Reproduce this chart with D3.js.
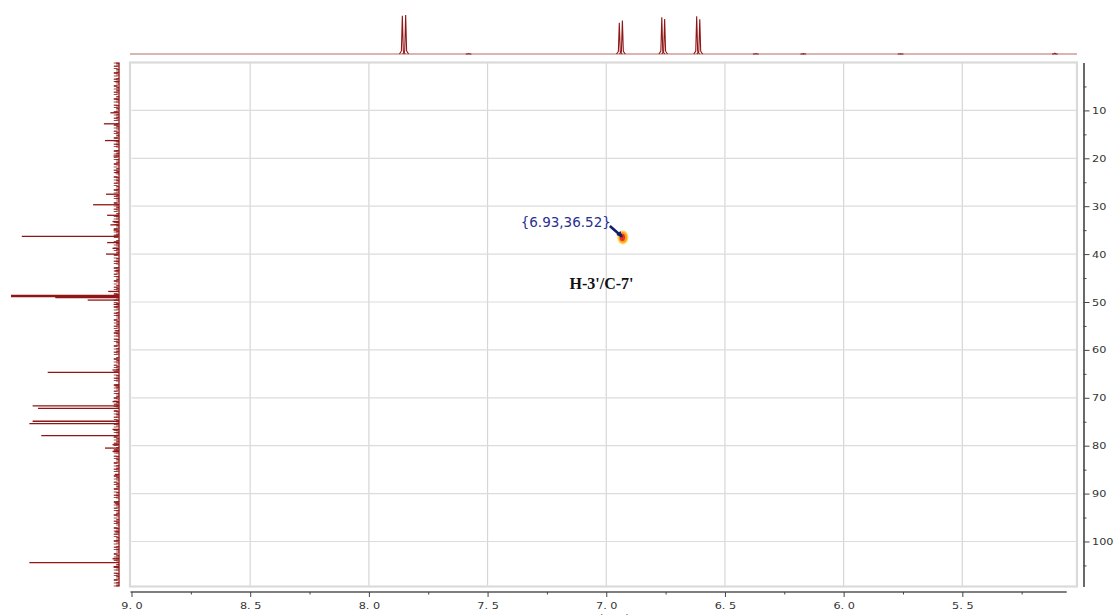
<!DOCTYPE html>
<html>
<head>
<meta charset="utf-8">
<script src="https://cdn.jsdelivr.net/npm/d3@7"></script>
<style>
  body { margin: 0; background: #fff; }
  svg { display: block; }
</style>
</head>
<body>
<div id="chart"></div>
<script>
// 1H projection (top): [ppm, relative height]
var protonPeaks = [
  [7.859, 0.98], [7.845, 1.0],
  [6.945, 0.80], [6.932, 0.86],
  [6.766, 0.94], [6.754, 0.90],
  [6.619, 0.97], [6.606, 0.89],
  [7.58, 0.01], [6.37, 0.01], [6.17, 0.008], [5.76, 0.006], [5.11, 0.02]
];

// 13C projection (left): [ppm, relative intensity]
var carbonPeaks = [
  [10.5, 8], [12.8, 14], [16.3, 13], [27.5, 12], [29.7, 24], [31.9, 11],
  [33.9, 8], [36.3, 90], [37.6, 11], [40.0, 12], [47.8, 10],
  [48.6, 100], [48.9, 100], [49.1, 59], [49.6, 29],
  [64.7, 66], [71.7, 80], [72.2, 75], [74.9, 80], [75.4, 83], [77.9, 72],
  [80.5, 13], [81.2, 6], [104.4, 83],
  // small ones along the baseline
  [4.0, 4], [19.5, 5], [23.0, 4], [33.2, 6], [35.0, 5], [38.8, 6], [43.5, 4],
  [50.5, 5], [56.0, 4], [64.2, 6], [67.5, 4], [70.8, 6], [76.6, 6], [79.8, 6],
  [86.0, 4], [92.0, 4], [98.0, 4], [103.6, 6], [105.3, 5]
];

// cross peak and labels
var crossPeak = { h: 6.93, c: 36.52, label: "{6.93,36.52}" };
var assignment = { h: 7.02, c: 47.2, text: "H-3'/C-7'" };

var xTicks = [9.0, 8.5, 8.0, 7.5, 7.0, 6.5, 6.0, 5.5];
var xMinorTicks = [8.75, 8.25, 7.75, 7.25, 6.75, 6.25, 5.75, 5.25];
var yTicks = [10, 20, 30, 40, 50, 60, 70, 80, 90, 100];
var yMinorTicks = [5, 15, 25, 35, 45, 55, 65, 75, 85, 95, 105];

var width = 1118, height = 615;
var red = "#8e1616";

var svg = d3.select("#chart").append("svg")
  .attr("width", width)
  .attr("height", height);

// scales
var x = d3.scaleLinear().domain([9.0, 5.0]).range([131.5, 1081]);
var y = d3.scaleLinear().domain([0, 109.4]).range([62.5, 586.5]);
var topY = d3.scaleLinear().domain([0, 1]).range([54, 15]);
var leftX = d3.scaleLinear().domain([0, 100]).range([119, 11]);

var xEnd = 5.017, xAxisEnd = 5.06;

// grid
var grid = svg.append("g");
grid.selectAll(".vg").data(xTicks.slice(1)).enter().append("line")
  .attr("x1", d => x(d)).attr("x2", d => x(d))
  .attr("y1", y(0)).attr("y2", y(109.4))
  .attr("stroke", "#d6d6d6").attr("stroke-width", 1.2);
grid.selectAll(".hg").data(yTicks).enter().append("line")
  .attr("x1", x(9.0)).attr("x2", x(xEnd))
  .attr("y1", d => y(d)).attr("y2", d => y(d))
  .attr("stroke", "#dcdcdc").attr("stroke-width", 1.2);

// frame
svg.append("rect")
  .attr("x", x(9.0) - 1.5).attr("y", y(0))
  .attr("width", x(xEnd) - x(9.0) + 1.5)
  .attr("height", y(109.4) - y(0))
  .attr("fill", "none").attr("stroke", "#dadada").attr("stroke-width", 2.2);

// top 1H trace
var topTrace = svg.append("g");
topTrace.append("line")
  .attr("x1", x(9.0) - 1.5).attr("x2", x(xEnd))
  .attr("y1", topY(0)).attr("y2", topY(0))
  .attr("stroke", "#b86a6a").attr("stroke-width", 1.1);

var peakLine = d3.line().x(d => x(d[0])).y(d => topY(d[1]));
topTrace.selectAll("path").data(protonPeaks).enter().append("path")
  .attr("d", function(p) {
    return peakLine([
      [p[0] + 0.012, 0], [p[0] + 0.004, p[1] * 0.08], [p[0], p[1]],
      [p[0] - 0.004, p[1] * 0.08], [p[0] - 0.012, 0]
    ]);
  })
  .attr("fill", "none").attr("stroke", red).attr("stroke-width", 1.1);

// left 13C trace (baseline with a noisy texture)
var leftTrace = svg.append("g");
leftTrace.append("line")
  .attr("x1", leftX(3)).attr("x2", leftX(3))
  .attr("y1", y(0)).attr("y2", y(109.4))
  .attr("stroke", red).attr("stroke-width", 4)
  .attr("stroke-dasharray", "1 2 1.5 1 1 3 2 1.5").attr("opacity", 0.8);
leftTrace.append("line")
  .attr("x1", leftX(1.2)).attr("x2", leftX(1.2))
  .attr("y1", y(0)).attr("y2", y(109.4))
  .attr("stroke", red).attr("stroke-width", 3)
  .attr("stroke-dasharray", "2 1 1 2.5 1.5 1").attr("opacity", 0.85);
leftTrace.append("line")
  .attr("x1", leftX(0)).attr("x2", leftX(0))
  .attr("y1", y(0)).attr("y2", y(109.4))
  .attr("stroke", red).attr("stroke-width", 1.3);
leftTrace.selectAll(".cp").data(carbonPeaks).enter().append("line")
  .attr("x1", leftX(0)).attr("x2", d => leftX(d[1]))
  .attr("y1", d => y(d[0])).attr("y2", d => y(d[0]))
  .attr("stroke", red).attr("stroke-width", 1.3);

// bottom axis
var axisFont = "'DejaVu Sans', sans-serif";
var bottomAxis = svg.append("g").attr("transform", "translate(0,592)");
bottomAxis.append("line")
  .attr("x1", x(9.0) - 1).attr("x2", x(xAxisEnd))
  .attr("stroke", "#555").attr("stroke-width", 1.3);
bottomAxis.append("g").call(d3.axisBottom(x).tickValues(xTicks).tickSize(5).tickSizeOuter(0)
  .tickFormat(d => d.toFixed(1).replace(".", ". ")));
bottomAxis.append("g").call(d3.axisBottom(x).tickValues(xMinorTicks).tickSize(2.5)
  .tickSizeOuter(0).tickFormat(""));
bottomAxis.selectAll(".domain").remove();
bottomAxis.selectAll(".tick line").attr("stroke", "#444");
bottomAxis.selectAll(".tick text")
  .attr("font-family", axisFont).attr("font-size", 9).attr("fill", "#333")
  .attr("y", 0).attr("dy", 0)
  .attr("transform", "translate(0,16.5) scale(1.25,1)");

// axis title, cut off by the bottom edge as in the original
svg.append("text")
  .attr("x", x(7.0) + 8).attr("y", 622)
  .attr("text-anchor", "middle")
  .attr("font-family", axisFont).attr("font-size", 10).attr("fill", "#333")
  .text("(ppm)");

// right axis
var rightAxis = svg.append("g").attr("transform", "translate(1083.5,0)");
rightAxis.append("g").call(d3.axisRight(y).tickValues(yTicks).tickSize(6).tickSizeOuter(0));
rightAxis.append("g").call(d3.axisRight(y).tickValues(yMinorTicks).tickSize(3)
  .tickSizeOuter(0).tickFormat(""));
rightAxis.selectAll(".domain").attr("stroke", "#555").attr("stroke-width", 1.3);
rightAxis.selectAll(".tick line").attr("stroke", "#444");
rightAxis.selectAll(".tick text")
  .attr("font-family", axisFont).attr("font-size", 9).attr("fill", "#333")
  .attr("x", 0).attr("dy", "0.34em")
  .attr("transform", "translate(8.5,0) scale(1.25,1)");

// cross peak
var cx = x(crossPeak.h), cy = y(crossPeak.c);
var blob = svg.append("g");
blob.append("ellipse").attr("cx", cx).attr("cy", cy).attr("rx", 5.5).attr("ry", 7)
  .attr("fill", "#ffd84a");
blob.append("ellipse").attr("cx", cx).attr("cy", cy).attr("rx", 4.2).attr("ry", 5.4)
  .attr("fill", "#ff9a2a");
blob.append("ellipse").attr("cx", cx - 0.5).attr("cy", cy).attr("rx", 2.6).attr("ry", 3.6)
  .attr("fill", "#e8321e");

svg.append("line")
  .attr("x1", cx - 13).attr("y1", cy - 11.5)
  .attr("x2", cx - 1).attr("y2", cy - 1)
  .attr("stroke", "#141c6e").attr("stroke-width", 2.6);
svg.append("path")
  .attr("d", `M${cx},${cy} L${cx - 6.5},${cy - 2.5} L${cx - 2.5},${cy - 6.5} Z`)
  .attr("fill", "#141c6e");

svg.append("text")
  .attr("x", cx - 12).attr("y", cy - 10.5)
  .attr("text-anchor", "end")
  .attr("font-family", axisFont).attr("font-size", 13.5).attr("fill", "#2b2f91")
  .text(crossPeak.label);

svg.append("text")
  .attr("x", x(assignment.h)).attr("y", y(assignment.c))
  .attr("text-anchor", "middle")
  .attr("font-family", "'Liberation Serif', 'Times New Roman', serif")
  .attr("font-weight", "bold").attr("font-size", 16).attr("fill", "#111")
  .text(assignment.text);
</script>
</body>
</html>
